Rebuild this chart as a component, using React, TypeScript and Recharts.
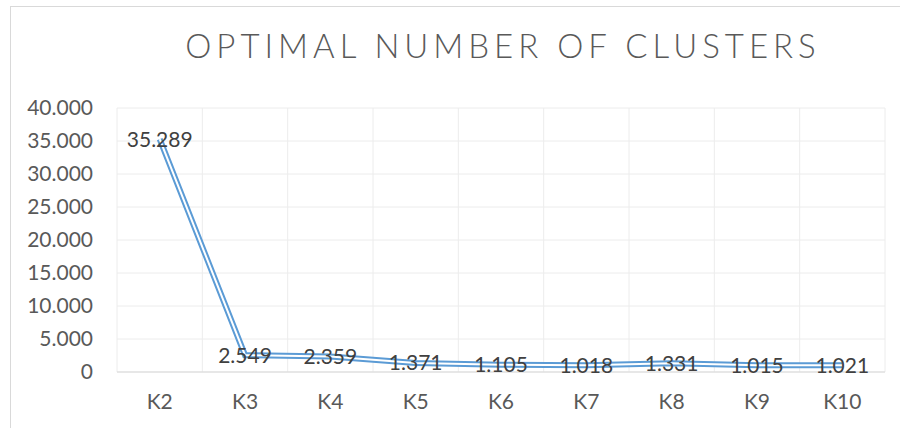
import React from 'react';
import { LineChart, Line, XAxis, YAxis, CartesianGrid, LabelList } from 'recharts';

const categories = ['K2', 'K3', 'K4', 'K5', 'K6', 'K7', 'K8', 'K9', 'K10'];
const values = [35.289, 2.549, 2.359, 1.371, 1.105, 1.018, 1.331, 1.015, 1.021];
const valueLabels = ['35.289', '2.549', '2.359', '1.371', '1.105', '1.018', '1.331', '1.015', '1.021'];
const yTicks = [0, 5, 10, 15, 20, 25, 30, 35, 40];

const data = categories.map((k, i) => ({ k, v: values[i], label: valueLabels[i] }));

const FONT = 'Lato, "Open Sans", sans-serif';
const BLUE = '#5B9BD5';

const App: React.FC = () => {
  return (
    <div style={{ position: 'fixed', left: 0, top: 0, width: 900, height: 428, overflow: 'hidden', background: '#fff' }}>
      <div
        style={{
          position: 'absolute',
          left: 10,
          top: 6,
          width: 1000,
          height: 600,
          borderLeft: '1px solid #d9d9d9',
          borderTop: '1px solid #d9d9d9',
        }}
      />
      <div
        style={{
          position: 'absolute',
          left: 103,
          width: 800,
          top: 25,
          textAlign: 'center',
          fontFamily: FONT,
          fontSize: 33,
          fontWeight: 300,
          letterSpacing: 5,
          color: '#595959',
        }}
      >
        OPTIMAL NUMBER OF CLUSTERS
      </div>
      <div style={{ position: 'absolute', left: 0, top: 0 }}>
        <LineChart width={900} height={428} data={data} margin={{ top: 108, right: 15, bottom: 6, left: 0 }}>
          <CartesianGrid
            stroke="#ececec"
            strokeWidth={1}
            verticalCoordinatesGenerator={({ offset }: any) =>
              Array.from({ length: categories.length + 1 }, (_, i) => offset.left + (i * offset.width) / categories.length)
            }
          />
          <XAxis
            dataKey="k"
            padding={{ left: 42.7, right: 42.7 }}
            axisLine={{ stroke: '#d9d9d9' }}
            tickLine={false}
            tickSize={0}
            tickMargin={22}
            height={50}
            tick={{ fill: '#595959', fontSize: 21, fontFamily: FONT }}
            interval={0}
          />
          <YAxis
            domain={[0, 40]}
            ticks={yTicks}
            width={117}
            axisLine={false}
            tickLine={false}
            tickSize={0}
            tickMargin={24}
            tickFormatter={(v: number) => (v === 0 ? '0' : v.toFixed(3))}
            tick={{ fill: '#595959', fontSize: 21, fontFamily: FONT }}
          />
          <Line dataKey="v" stroke={BLUE} strokeWidth={6} dot={false} isAnimationActive={false} strokeLinejoin="miter" />
          <Line dataKey="v" stroke="#ffffff" strokeWidth={2} dot={false} isAnimationActive={false} strokeLinejoin="miter">
            <LabelList dataKey="label" position="center" fill="#404040" fontSize={21} fontFamily={FONT} />
          </Line>
        </LineChart>
      </div>
    </div>
  );
};

export default App;
